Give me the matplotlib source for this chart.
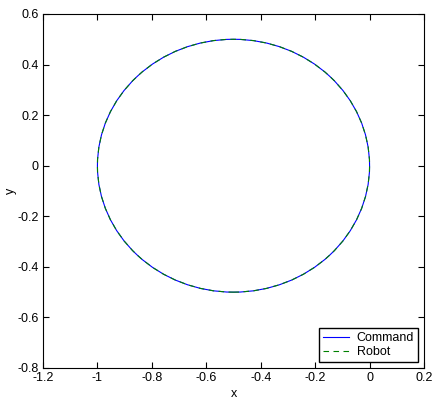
import matplotlib
matplotlib.use("Agg")
import matplotlib.pyplot as plt
from matplotlib.lines import Line2D
from matplotlib.patches import Circle

plt.rcParams["font.family"] = ["Liberation Sans", "DejaVu Sans"]
plt.rcParams["font.size"] = 9

# path data: both traces are the same circle
series = ["Command", "Robot"]
center_x = [-0.5, -0.5]
center_y = [0.0, 0.0]
radius = [0.5, 0.5]
colors = ["#0000ff", "#008000"]
styles = ["-", (0, (5, 4))]

xticks = [-1.2, -1, -0.8, -0.6, -0.4, -0.2, 0, 0.2]
yticks = [-0.8, -0.6, -0.4, -0.2, 0, 0.2, 0.4, 0.6]

fig = plt.figure(figsize=(4.33, 4.0), dpi=100)
ax = fig.add_axes([43 / 433, 32 / 400, 381 / 433, 354 / 400])

handles = []
for name, cx, cy, r, c, ls in zip(series, center_x, center_y, radius, colors, styles):
    ax.add_patch(Circle((cx, cy), r, fill=False, edgecolor=c, linestyle=ls, linewidth=0.8))
    handles.append(Line2D([], [], color=c, linestyle=ls, linewidth=0.8, label=name))

ax.set_xlim(-1.2, 0.2)
ax.set_ylim(-0.8, 0.6)
ax.set_xticks(xticks)
ax.set_yticks(yticks)
ax.set_xticklabels([f"{t:g}" for t in xticks])
ax.set_yticklabels([f"{t:g}" for t in yticks])
ax.tick_params(direction="in", top=True, right=True, length=4, width=0.8, pad=3)
for s in ax.spines.values():
    s.set_linewidth(0.8)

ax.set_xlabel("x", labelpad=3)
ax.set_ylabel("y")
ax.yaxis.set_label_coords(-0.068, 0.5)

leg = ax.legend(handles=handles, loc="lower right", fontsize=9, fancybox=False,
                framealpha=1, edgecolor="black", handlelength=2.1, handletextpad=0.6,
                borderpad=0.35, labelspacing=0.15, borderaxespad=0.45)
leg.get_frame().set_linewidth(1.0)

fig.savefig("out.png", dpi=100)
